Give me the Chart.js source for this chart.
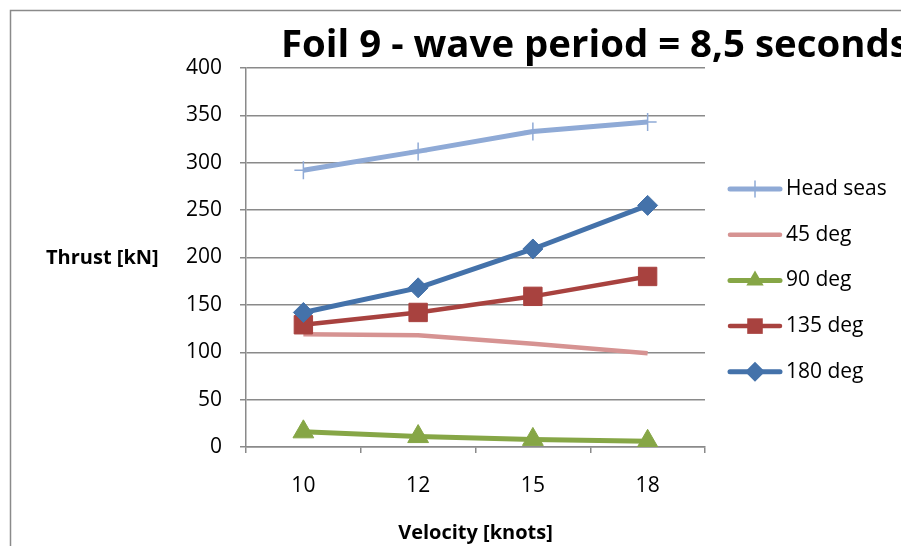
<!DOCTYPE html>
<html>
<head>
<meta charset="utf-8">
<script src="https://cdn.jsdelivr.net/npm/chart.js@4.4.1/dist/chart.umd.min.js"></script>
<style>
html, body { margin: 0; padding: 0; background: #fff; overflow: hidden; }
#wrap { width: 901px; height: 546px; position: relative; }
</style>
</head>
<body>
<div id="wrap"><canvas id="chartFoil" width="901" height="546"></canvas></div>
<script>
// Data
const velocities = ["10", "12", "15", "18"];
const headSeas = [292, 312, 333, 343];
const deg45 = [119, 118, 109, 99];
const deg90 = [16, 11, 8, 6];
const deg135 = [129, 142, 159, 180];
const deg180 = [142, 168, 209, 255];
const seriesNames = ["Head seas", "45 deg", "90 deg", "135 deg", "180 deg"];
const yMin = 0, yMax = 400, yStep = 50;

const gridGrey = "#8a8a8a";
const fontFamily = "'Open Sans', 'DejaVu Sans', sans-serif";

// Marker shapes, also used for the legend
function drawMarker(ctx, style, x, y, r, color) {
    ctx.save();
    ctx.fillStyle = color;
    ctx.strokeStyle = color;
    ctx.beginPath();
    if (style === "cross") {
        ctx.lineWidth = 1.5;
        ctx.moveTo(x, y - r); ctx.lineTo(x, y + r);
        ctx.moveTo(x - r, y); ctx.lineTo(x + r, y);
        ctx.stroke();
    } else if (style === "triangle") {
        ctx.moveTo(x, y - r);
        ctx.lineTo(x + r * 0.866, y + r * 0.5);
        ctx.lineTo(x - r * 0.866, y + r * 0.5);
        ctx.closePath();
        ctx.fill();
    } else if (style === "rect") {
        const s = r * Math.SQRT1_2;
        ctx.rect(x - s, y - s, 2 * s, 2 * s);
        ctx.fill();
    } else if (style === "rectRot") {
        ctx.moveTo(x - r, y); ctx.lineTo(x, y - r);
        ctx.lineTo(x + r, y); ctx.lineTo(x, y + r);
        ctx.closePath();
        ctx.fill();
    }
    ctx.restore();
}

// Frame, title, horizontal y label and legend
const decorPlugin = {
    id: "decor",
    beforeDraw(chart) {
        const ctx = chart.ctx;
        ctx.save();
        ctx.fillStyle = "#fff";
        ctx.fillRect(0, 0, chart.width, chart.height);
        ctx.strokeStyle = gridGrey;
        ctx.lineWidth = 1.5;
        ctx.beginPath();
        ctx.moveTo(10.5, chart.height);
        ctx.lineTo(10.5, 10.5);
        ctx.lineTo(chart.width, 10.5);
        ctx.stroke();
        ctx.restore();
    },
    afterDraw(chart) {
        const ctx = chart.ctx;
        ctx.save();
        ctx.fillStyle = "#000";
        ctx.textBaseline = "alphabetic";
        ctx.textAlign = "left";
        ctx.font = "bold 38.4px " + fontFamily;
        ctx.fillText("Foil 9 - wave period = 8,5 seconds", 281, 57);

        ctx.font = "bold 20px " + fontFamily;
        ctx.textBaseline = "middle";
        ctx.fillText("Thrust [kN]", 46, 258);

        // legend
        ctx.font = "21px " + fontFamily;
        const legendR = [8, 0, 10, 11, 10];
        chart.data.datasets.forEach((ds, i) => {
            const y = 189 + i * 45.7;
            ctx.strokeStyle = ds.borderColor;
            ctx.lineWidth = ds.borderWidth;
            ctx.lineCap = "round";
            ctx.beginPath();
            ctx.moveTo(730, y);
            ctx.lineTo(780, y);
            ctx.stroke();
            if (ds.pointRadius > 0) drawMarker(ctx, ds.pointStyle, 755, y, legendR[i], ds.borderColor);
            ctx.fillStyle = "#000";
            ctx.fillText(ds.label, 786, y);
        });
        ctx.restore();
    }
};

function makeSeries(label, data, color, width, style, radius, order) {
    return {
        label: label,
        data: data,
        borderColor: color,
        backgroundColor: color,
        borderWidth: width,
        pointStyle: style,
        pointRadius: radius,
        pointHoverRadius: radius,
        pointBorderWidth: style === "cross" ? 1.5 : 1,
        tension: 0,
        order: order
    };
}

const ctx = document.getElementById("chartFoil").getContext("2d");
new Chart(ctx, {
    type: "line",
    data: {
        labels: velocities,
        datasets: [
            makeSeries(seriesNames[0], headSeas, "#8faad6", 5, "cross", 9, 5),
            makeSeries(seriesNames[1], deg45, "#d69392", 4.5, "circle", 0, 4),
            makeSeries(seriesNames[2], deg90, "#86a646", 5, "triangle", 12, 3),
            makeSeries(seriesNames[3], deg135, "#a8423f", 4.5, "rect", 13, 2),
            makeSeries(seriesNames[4], deg180, "#4472aa", 5, "rectRot", 10, 1)
        ]
    },
    options: {
        responsive: false,
        animation: false,
        layout: { padding: { left: 0, top: 68, right: 196, bottom: 0 } },
        plugins: {
            legend: { display: false },
            title: { display: false },
            tooltip: { enabled: false }
        },
        scales: {
            x: {
                offset: true,
                afterFit(scale) { scale.height = 99; },
                grid: { offset: true, drawOnChartArea: false, color: gridGrey, lineWidth: 1.5, tickLength: 6 },
                border: { color: gridGrey, width: 1.5 },
                ticks: { color: "#000", font: { family: fontFamily, size: 21 }, padding: 20 },
                title: {
                    display: true,
                    text: "Velocity [knots]",
                    color: "#000",
                    font: { family: fontFamily, size: 20, weight: "bold" },
                    padding: { top: 0, bottom: 1 }
                }
            },
            y: {
                min: yMin,
                max: yMax,
                afterFit(scale) { scale.width = 246; },
                grid: { color: gridGrey, lineWidth: 1.5, tickLength: 6 },
                border: { color: gridGrey, width: 1.5 },
                ticks: { stepSize: yStep, color: "#000", font: { family: fontFamily, size: 21 }, padding: 18 }
            }
        }
    },
    plugins: [decorPlugin]
});
</script>
</body>
</html>
